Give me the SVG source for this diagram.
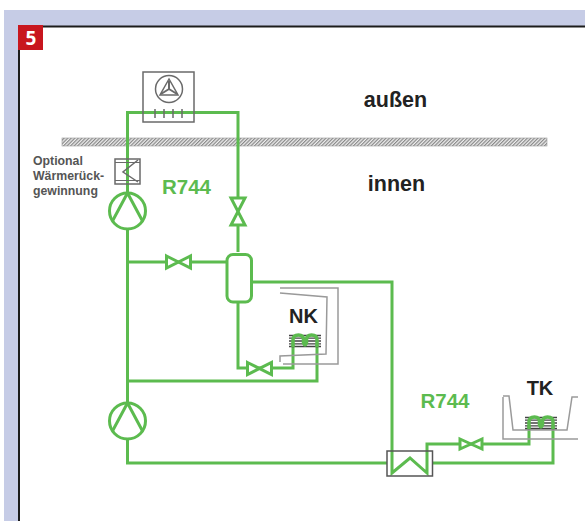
<svg xmlns="http://www.w3.org/2000/svg" width="585" height="521" viewBox="0 0 585 521">
<style>
.p{fill:none;stroke:#5cbb4f;stroke-width:3;stroke-linejoin:miter}
.v{fill:#fff;stroke:#5cbb4f;stroke-width:3}
.g{fill:none;stroke:#6a6a6a;stroke-width:1.5}
.c{fill:none;stroke:#9a9a9a;stroke-width:1.5}
.k{fill:none;stroke:#444;stroke-width:1.3}
.t{font-family:"Liberation Sans",Arial,sans-serif;font-weight:bold}
.gr{fill:#5cbb4f;font-size:20.5px}
.bl{fill:#222;font-size:20px}
.big{fill:#222;font-size:21.5px}
.sm{fill:#555;font-size:12.3px}
</style>
<defs>
<pattern id="hatch" width="2.5" height="2.5" patternUnits="userSpaceOnUse" patternTransform="rotate(45)">
<rect width="2.5" height="2.5" fill="#eee"/><rect width="1.2" height="2.5" fill="#888"/>
</pattern>
<g id="valveH"><path class="v" d="M-12,-6 L12,6 L12,-6 L-12,6 Z"/></g>
<g id="pump"><circle class="v" r="18"/><path class="p" d="M-15,10 L0,-18 L15,10"/></g>
<g id="coil"><path class="k" d="M-16,-5.500H16M-16,-2.800H16M-16,0H16M-16,2.800H16M-16,5.500H16"/><path class="p" stroke-width="3.500" d="M-12,6 V-1 Q-12,-6 -6.500,-6 Q-1.500,-6 -1.500,-1 V2 Q0,6 1.500,2 V-1 Q1.500,-6 6.500,-6 Q12,-6 12,-1 V6" style="stroke-width:3.500"/></g>
</defs>
<rect id="page" width="585" height="521" fill="#fff"/>
<rect id="band" x="4" y="10" width="581" height="511" fill="#c6cce6"/>
<rect id="panel" x="19" y="26.500" width="567" height="496" fill="#fff" stroke="#1c1c1c" stroke-width="2"/>
<g id="badge"><rect x="18" y="25" width="25" height="25" fill="#c8161e"/><text x="31" y="44.500" font-family="Open Sans,Liberation Sans,sans-serif" font-weight="bold" font-size="19" fill="#fff" text-anchor="middle">5</text></g>

<g id="wall"><rect x="62" y="138" width="485" height="8" fill="url(#hatch)" stroke="#999" stroke-width="0.6"/></g>

<g id="connectors">
<path class="p" d="M127.500,193 V112.500 H238 V252"/>
<path class="p" d="M127.500,229 V403"/>
<path class="p" d="M127.500,262 H227"/>
<path class="p" d="M251,282 H392 V473 L410,458 L427,473 V444 H529 V425"/>
<path class="p" d="M238,302 V368 H293 V345"/>
<path class="p" d="M127.500,381 H317 V345"/>
<path class="p" d="M127.500,439 V463 H387"/>
<path class="p" d="M433,463 H553 V425"/>
</g>

<g id="fan-cooler">
<rect class="g" x="143" y="72" width="51" height="50"/>
<circle class="g" cx="169" cy="89" r="13.500"/>
<path class="g" d="M169,79 L160,95 H178 Z" stroke-width="1"/>
<path class="g" d="M169,89 V81 M169,89 L161,94 M169,89 L177,94" style="stroke-width:2"/>
<path class="g" d="M155,109 V118 M164,109 V118 M173,109 V118 M182,109 V118"/>
</g>
<g id="heat-recovery">
<rect class="g" x="115" y="159" width="25" height="25"/>
<path class="g" d="M115,162.500 H140 M115,180.500 H140" style="stroke-width:1"/>
<path class="g" d="M138,160 L123,172 L138,182"/>
</g>
<g id="compressor-1"><use href="#pump" x="127.500" y="211"/></g>
<g id="valve-1"><path class="v" d="M231,198 L245,198 L231,225 L245,225 Z"/></g>
<g id="valve-2"><use href="#valveH" x="178.500" y="262"/></g>
<g id="receiver"><rect class="v" x="227" y="254.500" width="24.500" height="47.500" rx="6"/></g>
<g id="valve-3"><use href="#valveH" x="259.500" y="368.500"/></g>
<g id="nk">
<path class="c" d="M280,288 H338 V364 H283 M280,293 L327,297 L326,354 L280,356 V362"/>
<use href="#coil" x="305" y="341"/>
<text class="t bl" x="303.500" y="323" text-anchor="middle">NK</text>
</g>
<g id="compressor-2"><use href="#pump" x="127.500" y="421"/></g>
<g id="heat-exchanger">
<rect x="387" y="451" width="45.500" height="25" fill="none" stroke="#555" stroke-width="1.500"/>
</g>
<g id="valve-4"><path class="v" d="M460,439 L482,449 V439 L460,449 Z"/></g>
<g id="tk">
<path class="c" d="M503,397 V439 H578 M503,396 H509 L513,430 H567 L572,397 H578"/>
<use href="#coil" x="541" y="423"/>
<text class="t bl" x="540" y="395" text-anchor="middle">TK</text>
</g>

<g id="labels">
<text class="t big" x="395.500" y="107" text-anchor="middle">außen</text>
<text class="t big" x="396.500" y="191" text-anchor="middle">innen</text>
<text class="t gr" x="162" y="194">R744</text>
<text class="t gr" x="420.500" y="408">R744</text>
<text class="t sm" x="33" y="165">Optional</text>
<text class="t sm" x="33" y="180">Wärmerück-</text>
<text class="t sm" x="33" y="195">gewinnung</text>
</g>
</svg>
